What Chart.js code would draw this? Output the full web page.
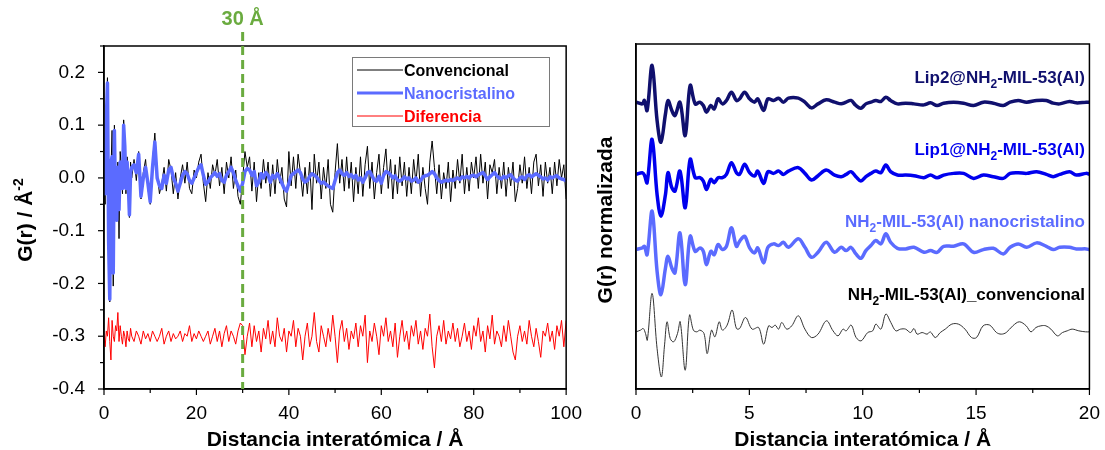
<!DOCTYPE html>
<html lang="es">
<head>
  <meta charset="UTF-8">
  <title>G(r) - NH2-MIL-53(Al)</title>
  <script src="https://cdn.jsdelivr.net/npm/chart.js"></script>
  <style>
    body { margin: 0; background: #fff; }
    #wrap { position: relative; width: 1105px; height: 450px; }
    canvas { position: absolute; top: 0; }
  </style>
</head>
<body>
  <div id="wrap">
    <canvas id="left" width="587" height="450" style="left:0"></canvas>
    <canvas id="right" width="525" height="450" style="left:580px"></canvas>
  </div>

  <script>
    // ---- left panel: G(r) vs r, 0-100 A ----
    const rL = [0,0.25,0.5,0.75,1,1.25,1.5,1.75,2,2.25,2.5,2.75,3,3.25,3.5,3.75,4,4.25,4.5,4.75,5,5.25,5.5,5.75,6,
      6.5,7,7.5,8,8.5,9,9.5,10,10.5,11,
      11.5,12,12.5,13,13.5,14,14.5,15,15.5,16,
      16.5,17,17.5,18,18.5,19,19.5,20,20.5,21,
      21.5,22,22.5,23,23.5,24,24.5,25,25.5,26,
      26.5,27,27.5,28,28.5,29,29.5,30,30.5,31,
      31.5,32,32.5,33,33.5,34,34.5,35,35.5,36,
      36.5,37,37.5,38,38.5,39,39.5,40,40.5,41,
      41.5,42,42.5,43,43.5,44,44.5,45,45.5,46,
      46.5,47,47.5,48,48.5,49,49.5,50,50.5,51,
      51.5,52,52.5,53,53.5,54,54.5,55,55.5,56,
      56.5,57,57.5,58,58.5,59,59.5,60,60.5,61,
      61.5,62,62.5,63,63.5,64,64.5,65,65.5,66,
      66.5,67,67.5,68,68.5,69,69.5,70,70.5,71,
      71.5,72,72.5,73,73.5,74,74.5,75,75.5,76,
      76.5,77,77.5,78,78.5,79,79.5,80,80.5,81,
      81.5,82,82.5,83,83.5,84,84.5,85,85.5,86,
      86.5,87,87.5,88,88.5,89,89.5,90,90.5,91,
      91.5,92,92.5,93,93.5,94,94.5,95,95.5,96,
      96.5,97,97.5,98,98.5,99,99.5,100];

    const gConvencional = [-0.01,-0.05,0.12,0.19,-0.1,-0.235,0.01,0.09,-0.205,0.1,-0.02,-0.06,0.03,-0.115,0.05,0.02,-0.03,0.11,0.07,-0.03,0.04,0.0,-0.075,0.03,0.0,
      0.035,-0.005,0.05,-0.04,0.01,0.035,-0.02,-0.05,0.03,0.085,
      0.01,-0.03,-0.01,0.02,-0.025,0.035,0.015,-0.03,0.01,-0.04,
      0.0,0.025,-0.01,0.03,-0.02,-0.03,0.015,0.0,0.03,0.045,
      -0.01,-0.045,0.01,-0.02,0.025,0.005,0.035,-0.015,0.02,-0.03,
      0.03,0.0,0.04,-0.02,0.015,-0.035,-0.05,0.0,0.05,0.02,
      0.04,-0.025,0.03,-0.045,0.01,-0.02,0.035,-0.01,0.03,-0.035,
      0.025,-0.03,0.035,-0.01,0.02,-0.04,-0.055,0.05,-0.015,0.04,
      -0.02,0.045,0.01,-0.035,0.02,-0.03,0.03,-0.06,0.045,-0.01,
      0.03,-0.04,0.02,-0.02,0.035,-0.05,-0.065,0.01,0.065,-0.01,
      0.035,-0.025,0.04,-0.02,0.03,-0.045,0.02,-0.03,0.04,-0.035,
      0.025,0.06,-0.02,0.03,-0.04,0.01,0.045,-0.03,0.02,0.055,
      -0.02,0.035,-0.04,0.025,-0.03,0.04,-0.015,0.03,-0.035,0.02,
      -0.03,0.035,-0.01,0.045,-0.035,0.02,-0.02,-0.05,0.03,0.07,
      0.02,-0.03,0.025,-0.04,0.01,-0.02,0.03,-0.045,0.015,-0.02,
      0.035,-0.01,0.045,-0.03,0.02,-0.025,0.03,0.0,0.04,-0.02,
      0.045,-0.01,0.03,-0.04,0.025,0.01,0.035,-0.03,0.02,-0.02,
      0.03,-0.035,0.02,-0.015,0.03,-0.045,-0.02,0.025,-0.01,0.04,
      -0.02,0.02,-0.03,0.03,0.045,-0.015,0.025,-0.035,0.03,-0.01,
      0.02,-0.03,0.03,-0.015,0.035,0.0,0.025,-0.04];

    const gNanocristalino = [0,-0.03,0.11,0.18,-0.12,-0.23,0.03,0.04,-0.18,0.09,-0.05,-0.08,0.02,-0.06,0.03,0.01,-0.02,0.1,0.06,-0.02,0.03,-0.01,-0.07,0.01,0.02,
      0.025,0.01,0.045,-0.035,0.0,0.02,-0.01,-0.045,0.02,0.068,
      0.0,-0.015,-0.02,0.005,-0.01,0.015,0.02,0.0,-0.01,-0.025,
      -0.01,0.005,0.012,0.008,-0.005,-0.01,0.0,0.01,0.02,0.025,
      0.005,-0.012,-0.008,0.0,0.005,0.01,0.003,0.008,-0.005,-0.008,
      0.005,0.012,0.02,0.01,-0.005,-0.015,-0.025,-0.01,0.012,0.018,
      0.015,0.005,0.012,-0.015,-0.008,0.008,0.0,0.01,0.005,-0.008,
      0.005,0.0,0.008,0.0,-0.01,-0.02,-0.025,-0.01,0.005,0.008,
      0.012,0.015,0.01,-0.002,-0.008,-0.005,0.003,0.008,0.005,0.002,
      -0.005,-0.01,-0.008,-0.012,-0.015,-0.018,-0.02,-0.005,0.01,0.015,
      0.008,0.005,0.01,0.003,0.006,0.0,0.005,-0.004,0.0,-0.008,
      0.0,0.01,0.012,0.004,-0.004,-0.006,0.003,-0.01,0.005,0.012,
      0.01,0.006,0.0,0.004,-0.004,-0.006,-0.003,0.002,-0.002,0.0,
      -0.006,-0.004,0.0,-0.008,-0.005,0.002,0.004,0.005,0.008,0.012,
      0.008,0.0,-0.005,-0.008,-0.006,-0.004,-0.006,-0.003,-0.005,-0.002,
      0.0,-0.003,0.002,0.0,0.003,0.0,0.004,0.005,0.002,0.006,
      0.008,0.01,0.004,-0.003,0.002,0.006,0.01,0.004,0.0,-0.002,
      0.003,0.0,0.004,0.006,0.0,-0.004,-0.006,0.0,0.002,-0.003,
      0.004,0.006,0.002,0.005,0.008,0.005,0.002,-0.002,0.0,-0.004,
      0.002,0.0,0.003,0.004,0.0,-0.002,-0.003,-0.006];

    const gDiferencia = [-0.3,-0.32,-0.29,-0.3,-0.265,-0.31,-0.345,-0.27,-0.3,-0.31,-0.28,-0.29,-0.255,-0.31,-0.28,-0.3,-0.315,-0.29,-0.3,-0.32,-0.29,-0.305,-0.31,-0.285,-0.3,
      -0.31,-0.29,-0.3,-0.315,-0.29,-0.305,-0.295,-0.31,-0.29,-0.3,
      -0.31,-0.3,-0.285,-0.315,-0.3,-0.29,-0.31,-0.295,-0.305,-0.3,
      -0.29,-0.31,-0.295,-0.3,-0.28,-0.31,-0.295,-0.305,-0.29,-0.3,
      -0.31,-0.3,-0.29,-0.315,-0.3,-0.285,-0.31,-0.29,-0.32,-0.295,
      -0.28,-0.31,-0.29,-0.3,-0.315,-0.29,-0.275,-0.28,-0.335,-0.3,
      -0.275,-0.32,-0.28,-0.31,-0.29,-0.33,-0.285,-0.305,-0.27,-0.315,
      -0.29,-0.32,-0.265,-0.3,-0.31,-0.285,-0.33,-0.29,-0.3,-0.27,
      -0.32,-0.285,-0.3,-0.345,-0.3,-0.275,-0.32,-0.3,-0.255,-0.31,
      -0.33,-0.28,-0.3,-0.32,-0.285,-0.31,-0.26,-0.3,-0.35,-0.29,
      -0.27,-0.31,-0.285,-0.325,-0.29,-0.305,-0.275,-0.32,-0.28,-0.3,
      -0.26,-0.35,-0.29,-0.31,-0.275,-0.3,-0.335,-0.28,-0.3,-0.265,
      -0.31,-0.29,-0.32,-0.275,-0.34,-0.3,-0.27,-0.31,-0.29,-0.325,
      -0.28,-0.3,-0.27,-0.315,-0.29,-0.325,-0.285,-0.3,-0.258,-0.32,
      -0.36,-0.3,-0.28,-0.31,-0.27,-0.315,-0.29,-0.305,-0.275,-0.31,
      -0.285,-0.32,-0.3,-0.275,-0.31,-0.29,-0.325,-0.28,-0.3,-0.265,
      -0.31,-0.29,-0.33,-0.28,-0.305,-0.26,-0.315,-0.29,-0.3,-0.32,
      -0.28,-0.31,-0.27,-0.3,-0.33,-0.345,-0.3,-0.28,-0.31,-0.29,
      -0.315,-0.27,-0.3,-0.32,-0.285,-0.31,-0.34,-0.29,-0.3,-0.275,
      -0.31,-0.29,-0.325,-0.28,-0.3,-0.27,-0.32,-0.27];

    // ---- right panel: normalized G(r), 0-20 A (arbitrary units) ----
    const rLip = [0,0.28,0.37,0.49,0.71,0.93,1.1,1.3,1.41,1.58,1.72,1.94,2.17,2.39,2.61,2.82,2.97,3.11,3.3,3.45,
      3.62,3.81,3.99,4.21,4.43,4.57,4.79,5.01,5.23,5.37,5.63,5.82,6.07,6.29,6.5,6.72,7.16,7.45,7.74,8.03,
      8.39,8.76,9.05,9.27,9.48,9.7,9.92,10.14,10.36,10.58,10.8,11.02,11.23,11.53,11.89,12.26,12.7,12.99,13.28,13.57,
      14.01,14.45,14.89,15.32,15.76,16.2,16.5,16.86,17.23,17.67,18.1,18.4,18.69,19.12,19.42,19.86,20];

    const nLip2 = [0,-1.7,1.7,-8.3,36.7,-18.3,-40,-11.7,1.7,-8.3,-13.3,0,-33.3,16.7,-1.7,0,-3.3,-10,-3.3,-6.7,
      3.3,-1.7,1.7,10,1.7,3.3,10,3.3,0,3.3,-8.3,3.3,1.7,4,0,4,4,0,-5.7,-1.7,
      2.3,0,-1.7,0,1.7,-3.3,-6,-1.7,0,1.7,0.7,5,1.7,-1.7,-1,-1.7,-2.7,-0.7,-3.3,-1,
      0,-1,-3.3,0,-1,-3.3,0,1.7,0,1.7,1.7,-1,-1.7,0.7,-0.7,0,0];

    const nLip1 = [0,1.7,-0.7,-8.3,35,-20,-41.7,-20,1.7,-13.3,-16.7,3.3,-33.3,15,-3.3,-3.3,-6.7,-15,-5,-8.3,
      -3.3,-3.3,0,11.7,1.7,0,10,1.7,-1.7,3.3,-9,2.7,1,3.3,0,3.3,6.7,1,-5.7,-1.3,
      4.3,-0.7,-2.3,0,2.7,-2.3,-6.7,-2.3,1,3.3,1.7,9.3,2.7,-0.7,-0.7,-1.3,-3.3,-0.7,-3.3,-0.7,
      1,1,-4,-0.7,-2.3,-4,1,1.7,1,2.7,0,-2.3,0,2.7,-0.7,1,0];

    const nNano = [0,1.7,3.3,-5,38.3,-21.7,-45,-18.3,-6.7,-18.3,-23.3,16.7,-35,13.3,-1.7,1.7,-1.7,-15,-1.7,-5,
      5,0,3.3,21.7,3.3,8.3,13.3,1.7,-3.3,1.7,-13.3,2.3,5.7,4,7.3,2.3,10.7,2.3,-7.7,-2.7,
      7.3,-2.7,2.3,-1,2.3,-4.3,-8.7,-1,4,9,5.7,15.7,7.3,1.3,0.7,2.3,-2.7,-1,-2.7,3.3,
      3.3,5.7,-2.7,0,1.3,-4.3,2.3,5.7,2.3,6.7,3.3,0,2.3,2.3,0.7,0.7,0];

    const rConv = [0,0.2,0.32,0.42,0.5,0.71,0.93,1.12,1.26,1.37,1.51,1.66,1.83,1.95,2.17,2.36,2.53,2.68,2.82,3.0,
      3.14,3.33,3.48,3.67,3.81,4.02,4.24,4.43,4.57,
      4.83,5.12,5.41,5.63,5.85,6.0,6.14,6.29,6.43,6.65,6.87,7.16,7.45,7.74,8.03,8.4,8.69,8.91,9.13,9.27,
      9.49,9.71,9.93,10.22,10.44,10.58,10.8,11.02,11.24,11.46,11.67,11.89,12.11,12.26,12.4,12.62,12.84,12.98,13.2,13.42,
      13.64,13.93,14.22,14.51,14.8,15.02,15.31,15.6,15.9,16.11,16.33,16.62,16.91,17.21,17.42,17.64,17.86,18.08,18.3,18.59,
      18.81,19.02,19.24,19.53,19.83,20];

    const nConv = [0,1.7,3.3,-1.7,-8.3,38.3,-16.7,-45,-13,10,-6.7,-10,-1.7,10,-38.3,16.7,1.7,0,1.7,-1.7,
      -21.7,1.7,-5,10,1.7,6.7,21.7,3.3,3.3,
      14.3,2.7,4.3,-12.3,6,4.3,6.7,2.7,9.3,2.7,6,16,2.7,-5.7,-2.3,11,1,-4,2.7,1,
      6.7,-5.7,-9,-0.7,1,7.7,2.7,17.7,9.3,1,2.7,2.7,-0.7,3.3,-2.3,-0.7,-2.3,0,-5.7,-0.7,
      2.7,7.7,7.7,2.7,-5.7,-5.7,6,6.7,-0.7,-2.3,-0.7,6,10,6,0,4.3,6,6,2.7,-4,
      -0.7,1,2.7,1,0,0];

    // vertical offsets used to stack the normalized curves
    const offsets = { lip2: 286, lip1: 214, nano: 139, conv: 57 };

    const FONT = '"Liberation Sans", Arial, sans-serif';
    const pts = (xs, ys, off = 0) => xs.map((x, i) => ({ x: x, y: ys[i] + off }));

    // text with sub/superscripts
    function drawRich(ctx, parts, x, y, size, color, align) {
      const fontOf = m => `bold ${m ? Math.round(size * 0.68) : size}px ${FONT}`;
      let w = 0;
      parts.forEach(([t, m]) => { ctx.font = fontOf(m); w += ctx.measureText(t).width; });
      let cx = align === 'right' ? x - w : align === 'center' ? x - w / 2 : x;
      ctx.fillStyle = color;
      ctx.textAlign = 'left';
      ctx.textBaseline = 'alphabetic';
      parts.forEach(([t, m]) => {
        ctx.font = fontOf(m);
        const dy = m === 'sub' ? size * 0.3 : m === 'sup' ? -size * 0.45 : 0;
        ctx.fillText(t, cx, y + dy);
        cx += ctx.measureText(t).width;
      });
    }

    // box frame + major/minor ticks
    const framePlugin = {
      id: 'frame',
      afterDatasetsDraw(chart, args, opts) {
        const { ctx, chartArea: a, scales } = chart;
        ctx.save();
        ctx.strokeStyle = '#000';
        ctx.lineWidth = 1.5;
        ctx.strokeRect(a.left, a.top, a.right - a.left, a.bottom - a.top);
        ctx.lineWidth = 1.2;
        const sx = scales.x;
        for (let v = sx.min; v <= sx.max + 1e-9; v += opts.xStep / 2) {
          const p = sx.getPixelForValue(v);
          const major = Math.abs(v / opts.xStep - Math.round(v / opts.xStep)) < 1e-6;
          ctx.beginPath();
          ctx.moveTo(p, a.bottom);
          ctx.lineTo(p, a.bottom + (major ? 6 : 4));
          ctx.stroke();
        }
        if (opts.yStep) {
          const sy = scales.y;
          for (let v = sy.min; v <= sy.max + 1e-9; v += opts.yStep / 2) {
            const p = sy.getPixelForValue(v);
            const major = Math.abs(v / opts.yStep - Math.round(v / opts.yStep)) < 1e-6;
            ctx.beginPath();
            ctx.moveTo(a.left, p);
            ctx.lineTo(a.left - (major ? 6 : 4), p);
            ctx.stroke();
          }
        }
        ctx.restore();
      }
    };

    const tickFont = { family: FONT, size: 19 };

    // left chart
    const leftDecor = {
      id: 'leftDecor',
      afterDatasetsDraw(chart) {
        const { ctx, chartArea: a, scales } = chart;
        ctx.save();
        // 30 A marker
        const x30 = scales.x.getPixelForValue(30);
        ctx.strokeStyle = '#6aab3f';
        ctx.lineWidth = 3;
        ctx.setLineDash([9, 5]);
        ctx.beginPath();
        ctx.moveTo(x30, 32);
        ctx.lineTo(x30, a.bottom);
        ctx.stroke();
        ctx.setLineDash([]);
        drawRich(ctx, [['30 Å', '']], x30, 25, 20, '#6aab3f', 'center');

        // legend
        ctx.fillStyle = '#fff';
        ctx.fillRect(352, 57, 197, 69);
        ctx.strokeStyle = '#7a7a7a';
        ctx.lineWidth = 1;
        ctx.strokeRect(352.5, 57.5, 197, 69);
        const rows = [
          ['Convencional', '#000', 1],
          ['Nanocristalino', '#5b6bff', 3],
          ['Diferencia', '#ff0000', 1]
        ];
        rows.forEach(([t, c, w], i) => {
          const y = 70 + i * 23;
          ctx.strokeStyle = c;
          ctx.lineWidth = w;
          ctx.beginPath();
          ctx.moveTo(357, y);
          ctx.lineTo(403, y);
          ctx.stroke();
          drawRich(ctx, [[t, '']], 404, y + 6, 16, c, 'left');
        });

        // axis titles
        drawRich(ctx, [['Distancia interatómica / Å', '']], (a.left + a.right) / 2, 446, 21, '#000', 'center');
        ctx.translate(32, 220);
        ctx.rotate(-Math.PI / 2);
        drawRich(ctx, [['G(r) / Å', ''], ['-2', 'sup']], 0, 0, 21, '#000', 'center');
        ctx.restore();
      }
    };

    new Chart(document.getElementById('left'), {
      type: 'line',
      data: {
        datasets: [
          { label: 'Nanocristalino', data: pts(rL, gNanocristalino), borderColor: '#5b6bff', borderWidth: 3.5, order: 0 },
          { label: 'Convencional', data: pts(rL, gConvencional), borderColor: '#000', borderWidth: 1, order: 1 },
          { label: 'Diferencia', data: pts(rL, gDiferencia), borderColor: '#ff0000', borderWidth: 1, order: 2 }
        ]
      },
      options: {
        responsive: false,
        animation: false,
        devicePixelRatio: 1,
        layout: { padding: { top: 46, right: 0, left: 0, bottom: 0 } },
        elements: { point: { radius: 0 }, line: { tension: 0, borderJoinStyle: 'round' } },
        plugins: {
          legend: { display: false },
          tooltip: { enabled: false },
          frame: { xStep: 20, yStep: 0.1 }
        },
        scales: {
          x: {
            type: 'linear', min: 0, max: 100,
            ticks: { stepSize: 20, font: tickFont, color: '#000', padding: 5, maxRotation: 0 },
            grid: { display: false },
            border: { display: true, color: '#000', width: 1.5 },
            afterFit(s) { s.height = 61; }
          },
          y: {
            min: -0.4, max: 0.25,
            ticks: {
              stepSize: 0.1, includeBounds: false, font: tickFont, color: '#000', padding: 11,
              callback: v => Math.abs(v) < 1e-9 ? '0.0' : v.toFixed(1)
            },
            grid: { display: false },
            border: { display: true, color: '#000', width: 1.5 },
            afterFit(s) { s.width = 104; }
          }
        }
      },
      plugins: [framePlugin, leftDecor]
    });

    // right chart
    const rightDecor = {
      id: 'rightDecor',
      afterDatasetsDraw(chart) {
        const { ctx, chartArea: a } = chart;
        ctx.save();
        drawRich(ctx, [['Lip2@NH', ''], ['2', 'sub'], ['-MIL-53(Al)', '']], 505, 83, 17, '#10106e', 'right');
        drawRich(ctx, [['Lip1@NH', ''], ['2', 'sub'], ['-MIL-53(Al)', '']], 505, 155, 17, '#0000ee', 'right');
        drawRich(ctx, [['NH', ''], ['2', 'sub'], ['-MIL-53(Al) nanocristalino', '']], 505, 227, 17, '#5b6bff', 'right');
        drawRich(ctx, [['NH', ''], ['2', 'sub'], ['-MIL-53(Al)_convencional', '']], 505, 300, 17, '#000', 'right');
        drawRich(ctx, [['Distancia interatómica / Å', '']], (a.left + a.right) / 2, 446, 21, '#000', 'center');
        ctx.translate(32, 220);
        ctx.rotate(-Math.PI / 2);
        drawRich(ctx, [['G(r) normalizada', '']], 0, 0, 21, '#000', 'center');
        ctx.restore();
      }
    };

    new Chart(document.getElementById('right'), {
      type: 'line',
      data: {
        datasets: [
          { label: 'Lip2@NH2-MIL-53(Al)', data: pts(rLip, nLip2, offsets.lip2), borderColor: '#10106e', borderWidth: 3.5 },
          { label: 'Lip1@NH2-MIL-53(Al)', data: pts(rLip, nLip1, offsets.lip1), borderColor: '#0000ee', borderWidth: 3.5 },
          { label: 'NH2-MIL-53(Al) nanocristalino', data: pts(rLip, nNano, offsets.nano), borderColor: '#5b6bff', borderWidth: 3.5 },
          { label: 'NH2-MIL-53(Al) convencional', data: pts(rConv, nConv, offsets.conv), borderColor: '#333', borderWidth: 1 }
        ]
      },
      options: {
        responsive: false,
        animation: false,
        devicePixelRatio: 1,
        layout: { padding: { top: 44, right: 7, left: 0, bottom: 0 } },
        elements: { point: { radius: 0 }, line: { tension: 0.35, borderJoinStyle: 'round' } },
        plugins: {
          legend: { display: false },
          tooltip: { enabled: false },
          frame: { xStep: 5, yStep: null }
        },
        scales: {
          x: {
            type: 'linear', min: 0, max: 20,
            ticks: { stepSize: 5, font: tickFont, color: '#000', padding: 5, maxRotation: 0 },
            grid: { display: false },
            border: { display: true, color: '#000', width: 1.5 },
            afterFit(s) { s.height = 61; }
          },
          y: {
            min: 0, max: 344,
            ticks: { display: false },
            grid: { display: false },
            border: { display: true, color: '#000', width: 1.5 },
            afterFit(s) { s.width = 56; }
          }
        }
      },
      plugins: [framePlugin, rightDecor]
    });
  </script>
</body>
</html>
